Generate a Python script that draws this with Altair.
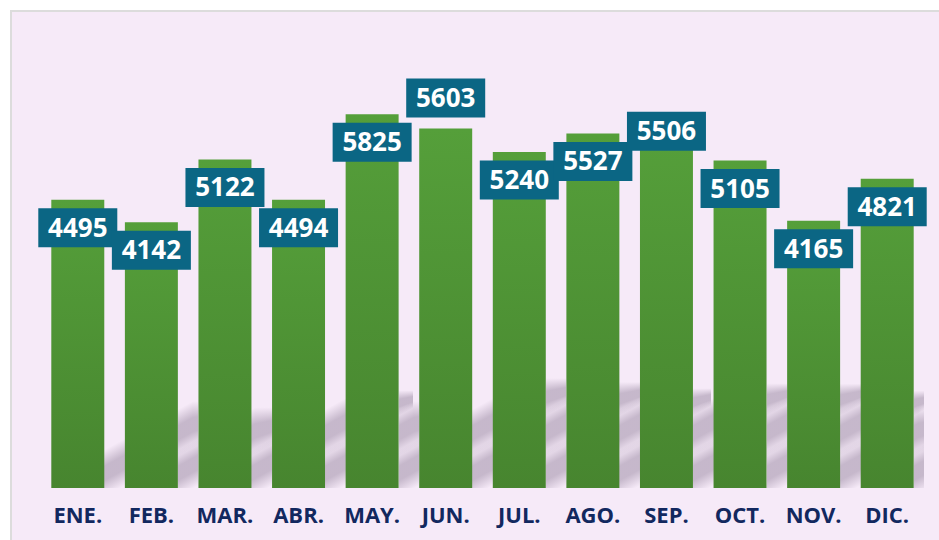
import altair as alt
import pandas as pd

# ---- data ----
months = ["ENE.", "FEB.", "MAR.", "ABR.", "MAY.", "JUN.", "JUL.", "AGO.", "SEP.", "OCT.", "NOV.", "DIC."]
values = [4495, 4142, 5122, 4494, 5825, 5603, 5240, 5527, 5506, 5105, 4165, 4821]
label_place = ["in", "in", "in", "in", "in", "above", "in", "in", "edge", "in", "in", "in"]

# ---- layout / style constants ----
W, H = 883, 449
Y_MAX = 7000
PX_PER_UNIT = H / Y_MAX
STEP = W / 12.0
HALF_BAR_PX = 0.36 * STEP
SHADOW_K = 0.27           # shadow height relative to bar height
SHADOW_SLOPE = 0.55       # rise of the shadow per pixel to the right
SHADOW_BLUR = 9           # px of soft edge
BOX_W, BOX_H = 79, 39
BOX_TOP = {"in": 8.5, "above": -50, "edge": -23}
PANEL = "#F6EAF8"
GREEN_TOP, GREEN_BOT = "#559f3a", "#47852f"
BOX_COLOR = "#0b6684"
MONTH_COLOR = "#12285f"

df = pd.DataFrame({"month": months, "value": values, "place": label_place})

# ---- soft perspective shadow, derived from the values, sliced into 1px columns in the gaps ----
centers = [(i + 0.5) * STEP for i in range(len(values))]
bar_spans = [(c - HALF_BAR_PX, c + HALF_BAR_PX) for c in centers]


def in_bar(px):
    return any(a <= px + 0.5 <= b for a, b in bar_spans)


rows = []
for i, v in enumerate(values):
    xa, xb = bar_spans[i]
    top_px = SHADOW_K * v * PX_PER_UNIT
    end = xb + top_px / SHADOW_SLOPE
    for col in range(int(xa), min(int(end) + 1, W)):
        if in_bar(col):
            continue
        xm = col + 0.5
        hi = min(SHADOW_SLOPE * (xm - xa), top_px)
        lo = max(0.0, SHADOW_SLOPE * (xm - xb))
        if hi <= lo:
            continue
        rows.append({
            "x0": col / STEP - 0.5, "x1": (col + 1) / STEP - 0.5,
            "lo": (lo - SHADOW_BLUR) / PX_PER_UNIT, "hi": (hi + SHADOW_BLUR) / PX_PER_UNIT,
        })
shadow_df = pd.DataFrame(rows)

y_scale = alt.Scale(domain=[0, Y_MAX], nice=False, zero=True)
x_enc = alt.X(
    "month:N",
    sort=months,
    scale=alt.Scale(paddingInner=0.28, paddingOuter=0.14),
    axis=alt.Axis(
        title=None, domain=False, ticks=False, labelAngle=0, zindex=2,
        labelFont="Open Sans", labelFontWeight="bold", labelFontSize=22,
        labelColor=MONTH_COLOR, labelPadding=17,
    ),
)
y_enc = alt.Y("value:Q", scale=y_scale, axis=None)

panel = alt.Chart(pd.DataFrame({"a": [0]})).mark_rect(
    fill=PANEL, stroke="#dcdcdc", strokeWidth=2
).encode(
    x=alt.value(-30), x2=alt.value(W + 40), y=alt.value(-28), y2=alt.value(H + 80)
)

shadow_fill = alt.Gradient(
    gradient="linear",
    stops=[
        alt.GradientStop(color="rgba(60,40,75,0)", offset=0),
        alt.GradientStop(color="rgba(60,40,75,0.26)", offset=0.35),
        alt.GradientStop(color="rgba(60,40,75,0.26)", offset=0.65),
        alt.GradientStop(color="rgba(60,40,75,0)", offset=1),
    ],
    x1=0, x2=0, y1=0, y2=1,
)

shadow = alt.Chart(shadow_df).mark_rect(fill=shadow_fill, clip=True, strokeWidth=0).encode(
    x=alt.X("x0:Q", scale=alt.Scale(domain=[-0.5, 11.5], nice=False, zero=False), axis=None),
    x2="x1:Q",
    y=alt.Y("lo:Q", scale=y_scale, axis=None),
    y2="hi:Q",
)

base = alt.Chart(df)

bars = base.mark_bar(
    color=alt.Gradient(
        gradient="linear",
        stops=[alt.GradientStop(color=GREEN_TOP, offset=0), alt.GradientStop(color=GREEN_BOT, offset=1)],
        x1=1, x2=1, y1=0, y2=1,
    )
).encode(x=x_enc, y=y_enc)

label_layers = []
for place, top in BOX_TOP.items():
    src = base.transform_filter(alt.datum.place == place)
    box = src.mark_bar(
        width=BOX_W, color=BOX_COLOR, yOffset=top, y2Offset=top + BOX_H
    ).encode(x=x_enc, y=y_enc, y2="value:Q")
    txt = src.mark_text(
        font="Open Sans", fontWeight="bold", fontSize=26, color="white",
        baseline="middle", align="center", dy=top + BOX_H / 2 + 1,
    ).encode(x=x_enc, y=y_enc, text="value:Q")
    label_layers += [box, txt]

front = alt.layer(bars, *label_layers)
back = alt.layer(panel, shadow)

chart = (
    alt.layer(back, front)
    .resolve_scale(x="independent")
    .properties(
        width=W, height=H,
        autosize=alt.AutoSizeParams(type="none"),
        padding={"left": 41, "top": 39, "right": 15, "bottom": 52},
        background="white",
    )
    .configure_view(stroke=None)
)

chart.save("out.html", embed_options={"renderer": "svg", "actions": False})
